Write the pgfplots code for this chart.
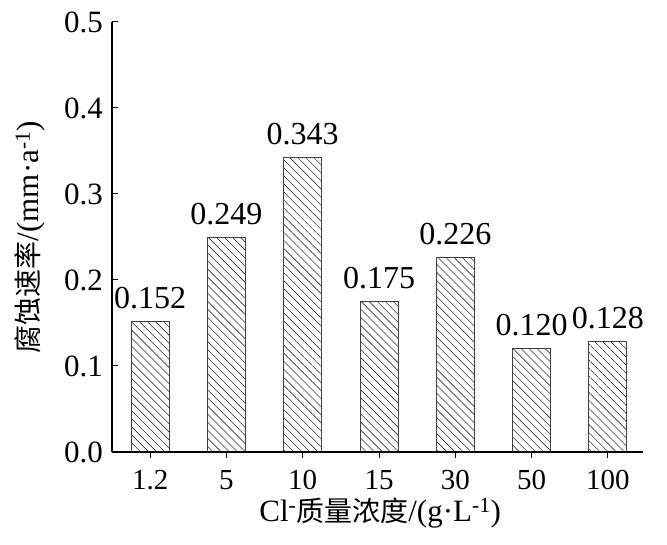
\documentclass[border=0pt]{standalone}
\usepackage{pgfplots}
\pgfplotsset{compat=1.18}
\usetikzlibrary{patterns.meta}
\usepackage{fontspec}
\setmainfont{Liberation Serif}
\newfontfamily\cjk{Noto Sans CJK SC}
\begin{document}
\begin{tikzpicture}
\begin{axis}[
  at={(0,0)}, anchor=south west,
  scale only axis, width=531pt, height=430pt,
  axis lines=left, axis line style={line width=1.6pt,-},
  axis on top,
  xmin=-0.5, xmax=6.46, ymin=0, ymax=0.5,
  xtick=data, xticklabels={1.2,5,10,15,30,50,100},
  ytick={0,0.1,0.2,0.3,0.4,0.5},
  yticklabels={0.0,0.1,0.2,0.3,0.4,0.5},
  yticklabel style={anchor=east, inner sep=0pt, xshift=-9pt, font=\fontsize{31}{34}\selectfont},
  xticklabel style={anchor=north, inner sep=0pt, yshift=-12pt, font=\fontsize{29}{32}\selectfont},
  tick align=inside, major tick length=6pt, tick style={line width=1pt, black},
  xlabel={Cl\textsuperscript{-}{\cjk\fontsize{28}{30}\selectfont 质量浓度}/(g·L\textsuperscript{-1})},
  ylabel={{\cjk\fontsize{28}{30}\selectfont 腐蚀速率}/(mm·a\textsuperscript{-1})},
  label style={font=\fontsize{31}{34}\selectfont, inner sep=0pt},
  xlabel style={at={(axis description cs:0.505,-0.143)}, anchor=center},
  ylabel style={at={(axis description cs:-0.154,0.5)}, anchor=center},
  ybar, bar width=38pt,
  nodes near coords,
  nodes near coords style={font=\fontsize{32}{34}\selectfont, anchor=south, inner sep=0pt, yshift=12pt,
    /pgf/number format/fixed,/pgf/number format/fixed zerofill,/pgf/number format/precision=3,/pgf/number format/assume math mode=true},
  clip=false,
]
\addplot[draw=black!75, line width=1pt, pattern={Lines[angle=-45, distance=5.7pt, line width=0.6pt]}, pattern color=black!80]
  coordinates {(0,0.152) (1,0.249) (2,0.343) (3,0.175) (4,0.226) (5,0.120) (6,0.128)};
\end{axis}
\path[use as bounding box] (-112pt,-93pt) rectangle (555pt,452pt);
\end{tikzpicture}
\end{document}
